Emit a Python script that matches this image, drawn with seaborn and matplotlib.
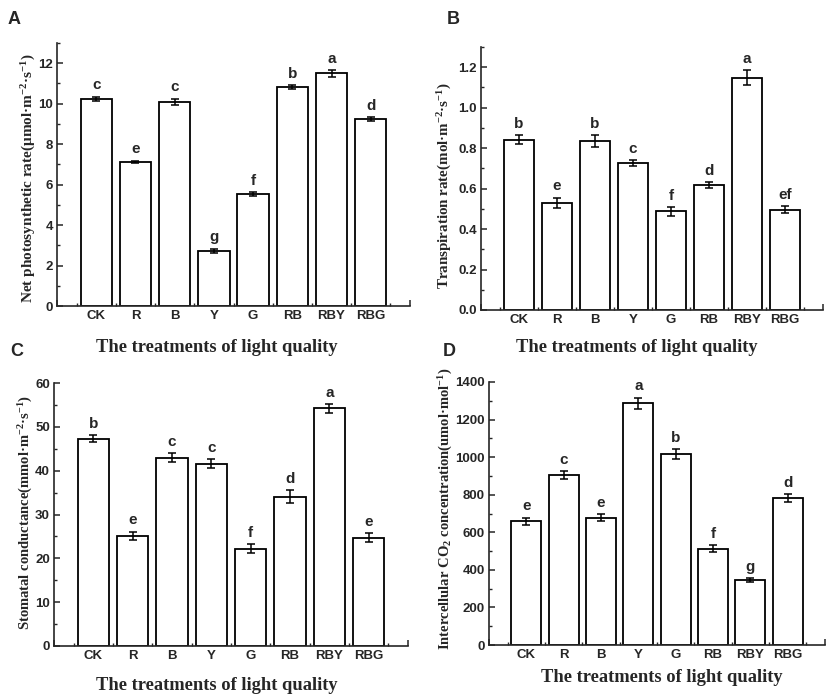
import matplotlib
matplotlib.use("Agg")
import matplotlib.pyplot as plt
from matplotlib.ticker import MultipleLocator, FixedLocator, FixedFormatter
import seaborn as sns
import pandas as pd

# ---------------- data ----------------
categories = ["CK", "R", "B", "Y", "G", "RB", "RBY", "RBG"]

pn_mean = [10.24, 7.12, 10.09, 2.74, 5.54, 10.83, 11.50, 9.25]
pn_err = [0.11, 0.07, 0.16, 0.10, 0.10, 0.11, 0.16, 0.10]
pn_letters = ["c", "e", "c", "g", "f", "b", "a", "d"]

tr_mean = [0.842, 0.529, 0.835, 0.725, 0.487, 0.616, 1.147, 0.496]
tr_err = [0.022, 0.027, 0.031, 0.015, 0.021, 0.015, 0.037, 0.016]
tr_letters = ["b", "e", "b", "c", "f", "d", "a", "ef"]

gs_mean = [47.3, 25.1, 43.0, 41.6, 22.2, 34.1, 54.2, 24.7]
gs_err = [0.85, 1.0, 1.0, 1.1, 1.0, 1.55, 1.0, 1.0]
gs_letters = ["b", "e", "c", "c", "f", "d", "a", "e"]

ci_mean = [659, 906, 677, 1287, 1015, 512, 346, 783]
ci_err = [19, 22, 19, 30, 27, 18, 11, 21]
ci_letters = ["e", "c", "e", "a", "b", "f", "g", "d"]

xlabel_text = "The treatments of light quality"
ylabels = [
    r"Net photosynthetic rate(μmol·m$^{-2}$·s$^{-1}$)",
    r"Transpiration rate(mol·m$^{-2}$·s$^{-1}$)",
    r"Stomatal conductance(mmol·m$^{-2}$·s$^{-1}$)",
    r"Intercellular CO$_{2}$ concentration(umol·mol$^{-1}$)",
]
panel_letters = ["A", "B", "C", "D"]

# ---------------- style ----------------
sns.set_style("ticks")
plt.rcParams["font.family"] = ["Liberation Sans", "DejaVu Sans"]
plt.rcParams["font.weight"] = "bold"
plt.rcParams["mathtext.fontset"] = "custom"
plt.rcParams["mathtext.rm"] = "Liberation Serif:bold"
plt.rcParams["mathtext.it"] = "Liberation Serif:bold"
plt.rcParams["mathtext.bf"] = "Liberation Serif:bold"
plt.rcParams["axes.linewidth"] = 1.2

fig = plt.figure(figsize=(8.32, 6.95), dpi=100)
W, H = 832, 695

def axes_px(left, right, top, bottom):
    return fig.add_axes([left / W, 1 - bottom / H, (right - left) / W, (bottom - top) / H])

panels = [
    dict(box=(57, 410, 43, 306), mean=pn_mean, err=pn_err, let=pn_letters,
         ylim=13, major=2, minor=1, fmt="{:.0f}", yl=(28.5, 178, 11.0), xl=(217, 348), pl=(8, 20)),
    dict(box=(481, 823, 47, 310), mean=tr_mean, err=tr_err, let=tr_letters,
         ylim=1.3, major=0.2, minor=0.1, fmt="{:.1f}", yl=(445, 186, 10.8), xl=(637, 348), pl=(447, 20)),
    dict(box=(54, 408, 383, 646), mean=gs_mean, err=gs_err, let=gs_letters,
         ylim=60, major=10, minor=5, fmt="{:.0f}", yl=(26, 512, 10.5), xl=(217, 685), pl=(10, 352)),
    dict(box=(489, 825, 382, 645), mean=ci_mean, err=ci_err, let=ci_letters,
         ylim=1400, major=200, minor=100, fmt="{:.0f}", yl=(446, 509, 10.5), xl=(662, 678), pl=(443, 352)),
]

for idx, p in enumerate(panels):
    ax = axes_px(*p["box"])
    df = pd.DataFrame({"treatment": categories, "value": p["mean"]})
    sns.barplot(data=df, x="treatment", y="value", order=categories, color="white",
                saturation=1, edgecolor="black", linewidth=1.3, width=0.8,
                errorbar=None, ax=ax)
    ax.errorbar(range(len(categories)), p["mean"], yerr=p["err"], fmt="none",
                ecolor="black", elinewidth=1.1, capsize=2.6, capthick=1.1, zorder=5)
    for i, (m, e, l) in enumerate(zip(p["mean"], p["err"], p["let"])):
        ax.annotate(l, (i, m + e), xytext=(0, 3), textcoords="offset points",
                    ha="center", va="bottom", fontsize=11, fontweight="bold",
                    family=["Liberation Sans", "DejaVu Sans"])
    ax.set_xlim(-1, 8)
    ax.set_ylim(0, p["ylim"])
    ax.xaxis.set_major_locator(FixedLocator(list(range(-1, 9))))
    ax.xaxis.set_major_formatter(FixedFormatter([""] + categories + [""]))
    ax.xaxis.set_minor_locator(FixedLocator([i + 0.5 for i in range(-1, 8)]))
    ax.yaxis.set_minor_locator(MultipleLocator(p["minor"]))
    ax.set_yticks([k * p["major"] for k in range(int(round(p["ylim"] / p["major"])) + 1)
                   if k * p["major"] <= p["ylim"] + 1e-9])
    ax.set_yticklabels([p["fmt"].format(t) for t in ax.get_yticks()])
    ax.tick_params(axis="both", which="major", direction="in", length=4.5, width=1.1,
                   labelsize=9.5, pad=3)
    ax.tick_params(axis="both", which="minor", direction="in", length=2.5, width=1.0)
    for lab in ax.get_xticklabels() + ax.get_yticklabels():
        lab.set_fontweight("bold")
    ax.set_xlabel("")
    ax.set_ylabel("")
    sns.despine(ax=ax)
    # y label
    ylx, ylc, ylfs = p["yl"]
    fig.text(ylx / W, 1 - ylc / H, ylabels[idx], rotation=90,
             ha="center", va="center", fontsize=ylfs, fontweight="bold",
             family=["Liberation Serif", "DejaVu Serif"])
    # x label
    fig.text(p["xl"][0] / W, 1 - p["xl"][1] / H, xlabel_text, ha="center", va="center",
             fontsize=13.3, fontweight="bold", family=["Liberation Serif", "DejaVu Serif"])
    # panel letter
    fig.text(p["pl"][0] / W, 1 - p["pl"][1] / H, panel_letters[idx], ha="left",
             va="center", fontsize=13, fontweight="bold",
             family=["Liberation Sans", "DejaVu Sans"])

fig.savefig("out.png", dpi=100, facecolor="white")
